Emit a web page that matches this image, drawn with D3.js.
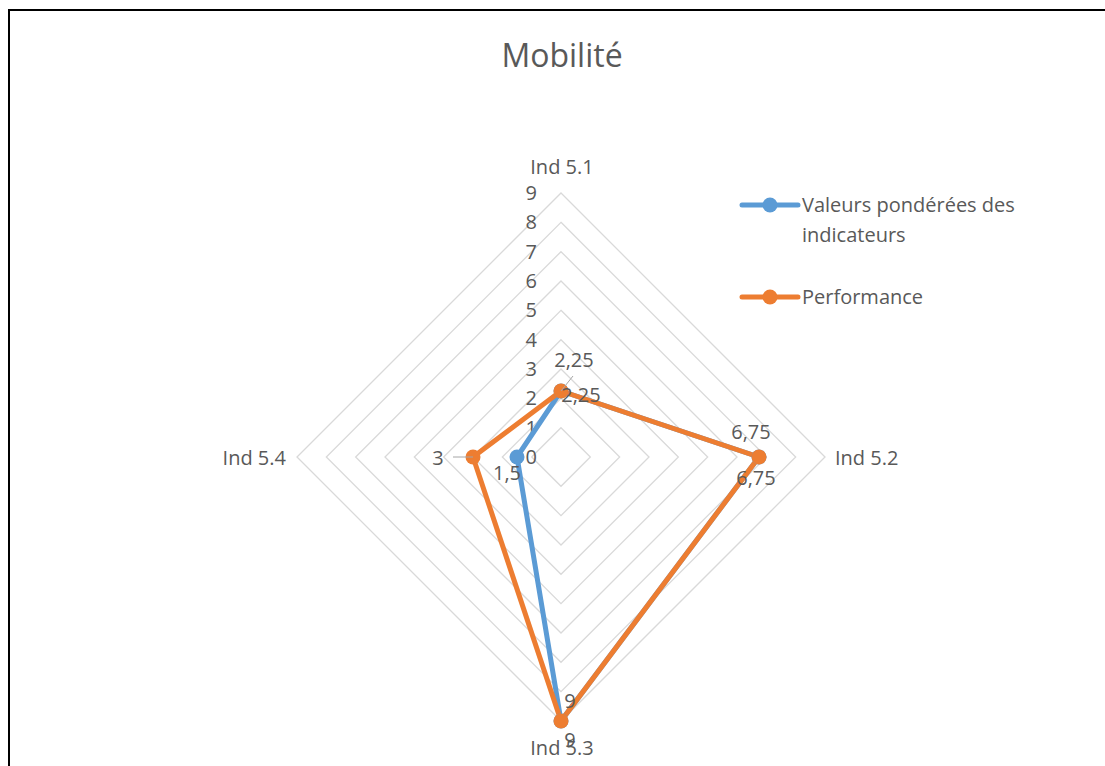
<!DOCTYPE html>
<html><head><meta charset="utf-8">
<script src="https://cdn.jsdelivr.net/npm/d3@7"></script>
<style>body{margin:0;background:#fff;} svg{display:block;} text{font-family:"Open Sans","Noto Sans",sans-serif;fill:#595959;}</style>
</head><body>
<svg id="c" width="1105" height="766"></svg>
<script>
const categories = ["Ind 5.1", "Ind 5.2", "Ind 5.3", "Ind 5.4"];
const seriesNames = ["Valeurs pondérées des indicateurs", "Performance"];
const valeurs = [2.25, 6.75, 9, 1.5];
const performance = [2.25, 6.75, 9, 3];
const valeursLabels = ["2,25", "6,75", "9", "1,5"];
const performanceLabels = ["2,25", "6,75", "9", "3"];
const tickValues = [0,1,2,3,4,5,6,7,8,9];
const colors = ["#5B9BD5", "#ED7D31"];
const FS = 20;

const svg = d3.select("#c");
svg.append("rect").attr("x",9).attr("y",10).attr("width",1200).attr("height",900)
  .attr("fill","none").attr("stroke","#000").attr("stroke-width",2);

svg.append("text").attr("x",562).attr("y",67).attr("text-anchor","middle")
  .attr("font-size",32).text("Mobilité");

const cx = 561, cy = 457;
const r = d3.scaleLinear().domain([0,9]).range([0,264]);
const angle = i => -Math.PI/2 + i*2*Math.PI/categories.length;
const pt = (i,v) => [cx + r(v)*Math.cos(angle(i)), cy + r(v)*Math.sin(angle(i))];

const g = svg.append("g");
tickValues.slice(1).forEach(t => {
  g.append("polygon").attr("points", categories.map((c,i)=>pt(i,t).join(",")).join(" "))
    .attr("fill","none").attr("stroke","#D9D9D9").attr("stroke-width",1.3);
});
tickValues.forEach(t => {
  g.append("text").attr("x", cx-24).attr("y", cy - r(t)).attr("dy","0.35em")
    .attr("text-anchor","end").attr("font-size",FS).text(t);
});
const catPos = [
  {x:cx+1, y:cy - r(9) - 26, a:"middle"},
  {x:cx + r(9) + 10, y:cy+1, a:"start"},
  {x:cx+1, y:cy + r(9) + 27, a:"middle"},
  {x:cx - r(9) - 11, y:cy+1, a:"end"}
];
categories.forEach((c,i)=>{
  g.append("text").attr("x",catPos[i].x).attr("y",catPos[i].y).attr("dy","0.35em")
   .attr("text-anchor",catPos[i].a).attr("font-size",FS).text(c);
});

const line = d3.line().curve(d3.curveLinearClosed);
[valeurs, performance].forEach((s,k)=>{
  const pts = s.map((v,i)=>pt(i,v));
  g.append("path").attr("d", line(pts)).attr("fill","none").attr("stroke",colors[k])
    .attr("stroke-width",5).attr("stroke-linejoin","round");
});
[valeurs, performance].forEach((s,k)=>{
  s.forEach((v,i)=>{
    const p = pt(i,v);
    g.append("circle").attr("cx",p[0]).attr("cy",p[1]).attr("r",7.5).attr("fill",colors[k]);
  });
});

const lblOff = [
  [[13,-31,"middle"],[-8,-25,"middle"],[9,-20,"middle"],[-10,16,"middle"]],
  [[20,4,"middle"],[-3,21,"middle"],[9,19,"middle"],[-35,1,"middle"]]
];
[valeursLabels, performanceLabels].forEach((L,k)=>{
  const s = k===0 ? valeurs : performance;
  L.forEach((t,i)=>{
    const p = pt(i,s[i]);
    const o = lblOff[k][i];
    g.append("text").attr("x",p[0]+o[0]).attr("y",p[1]+o[1]).attr("dy","0.35em")
      .attr("text-anchor",o[2]).attr("font-size",FS).text(t);
  });
});
const p51 = pt(0,valeurs[0]);
g.append("line").attr("x1",p51[0]).attr("y1",p51[1]).attr("x2",p51[0]+12).attr("y2",p51[1]-15)
  .attr("stroke","#A6A6A6").attr("stroke-width",1);
const p54 = pt(3,performance[3]);
g.append("line").attr("x1",p54[0]).attr("y1",p54[1]).attr("x2",p54[0]-20).attr("y2",p54[1])
  .attr("stroke","#A6A6A6").attr("stroke-width",1);

const leg = svg.append("g");
const legY = [205, 297];
seriesNames.forEach((n,k)=>{
  leg.append("line").attr("x1",742).attr("x2",798).attr("y1",legY[k]).attr("y2",legY[k])
    .attr("stroke",colors[k]).attr("stroke-width",5).attr("stroke-linecap","round");
  leg.append("circle").attr("cx",770).attr("cy",legY[k]).attr("r",7.5).attr("fill",colors[k]);
});
leg.append("text").attr("x",802).attr("y",205).attr("dy","0.35em").attr("font-size",FS).text("Valeurs pondérées des");
leg.append("text").attr("x",802).attr("y",235).attr("dy","0.35em").attr("font-size",FS).text("indicateurs");
leg.append("text").attr("x",802).attr("y",297).attr("dy","0.35em").attr("font-size",FS).text(seriesNames[1]);
</script>
</body></html>
